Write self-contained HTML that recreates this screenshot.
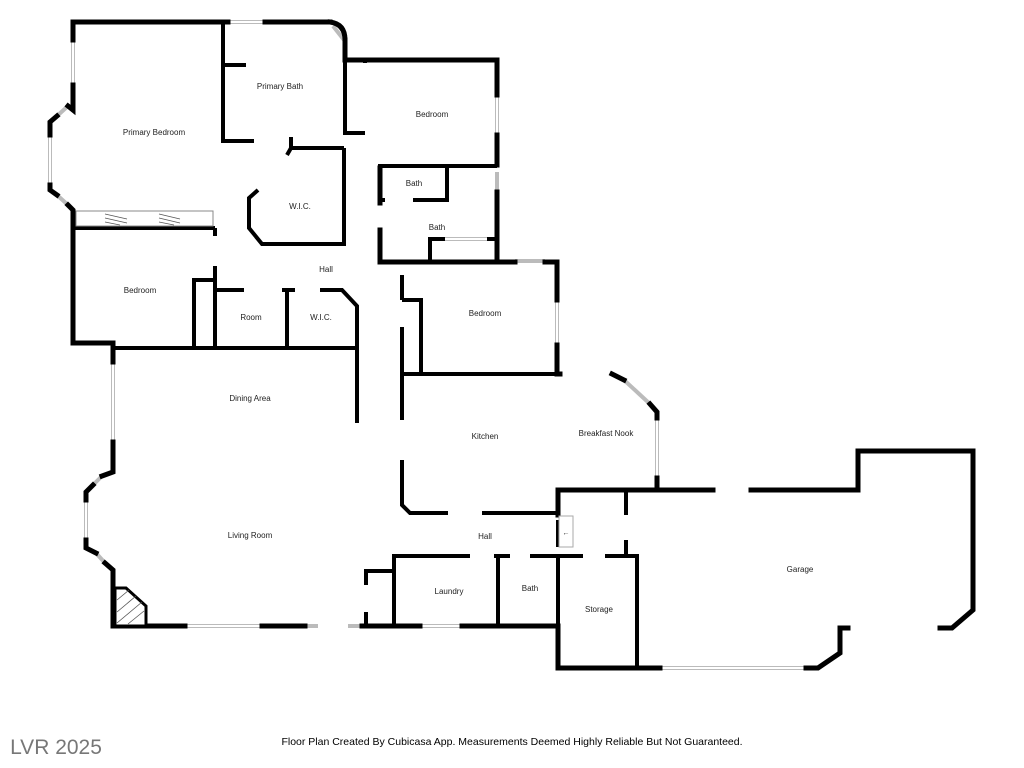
<!DOCTYPE html>
<html><head><meta charset="utf-8"><style>
html,body{margin:0;padding:0;background:#fff;width:1024px;height:768px;overflow:hidden}
svg{display:block}
text{font-family:"Liberation Sans",sans-serif;font-size:8px;fill:#222;text-anchor:middle}
.o{stroke:#000;stroke-width:5;fill:none;stroke-linejoin:miter;stroke-linecap:square}
.i{stroke:#000;stroke-width:4;fill:none;stroke-linecap:butt}
.w{stroke:#bbb;stroke-width:4;fill:none}
.wi{stroke:#fff;stroke-width:2;fill:none}
</style></head><body>
<svg width="1024" height="768" viewBox="0 0 1024 768">
<g class="w">
<line x1="228" y1="22" x2="265" y2="22"/><line x1="73" y1="40" x2="73" y2="85"/>
<line x1="57" y1="116" x2="68" y2="106"/><line x1="50" y1="135" x2="50" y2="185"/>
<line x1="57" y1="195" x2="68" y2="205"/><line x1="497" y1="95" x2="497" y2="135"/>
<line x1="497" y1="172" x2="497" y2="192"/><line x1="73" y1="276" x2="73" y2="316"/>
<line x1="113" y1="362" x2="113" y2="442"/><line x1="93" y1="485" x2="102" y2="476"/>
<line x1="86" y1="500" x2="86" y2="540"/><line x1="96" y1="553" x2="105" y2="563"/>
<line x1="185" y1="626" x2="262" y2="626"/><line x1="305" y1="626" x2="318" y2="626"/>
<line x1="348" y1="626" x2="362" y2="626"/><line x1="420" y1="626" x2="462" y2="626"/>
<line x1="515" y1="261" x2="545" y2="261"/><line x1="557" y1="300" x2="557" y2="345"/>
<line x1="624" y1="380" x2="650" y2="404"/><line x1="657" y1="418" x2="657" y2="478"/>
<line x1="660" y1="668" x2="806" y2="668"/><line x1="333" y1="26" x2="344" y2="40"/>
<line x1="445" y1="239" x2="487" y2="239"/>
</g>
<g class="wi">
<line x1="228" y1="22" x2="265" y2="22"/><line x1="73" y1="40" x2="73" y2="85"/>
<line x1="50" y1="135" x2="50" y2="185"/><line x1="497" y1="95" x2="497" y2="135"/>
<line x1="113" y1="362" x2="113" y2="442"/><line x1="86" y1="500" x2="86" y2="540"/>
<line x1="185" y1="626" x2="262" y2="626"/><line x1="420" y1="626" x2="462" y2="626"/>
<line x1="557" y1="300" x2="557" y2="345"/><line x1="657" y1="418" x2="657" y2="478"/>
<line x1="660" y1="668" x2="806" y2="668"/><line x1="445" y1="239" x2="487" y2="239"/>
</g>
<g class="o">
<polyline points="228,22 73,22 73,40"/>
<polyline points="265,22 330,22"/>
<path d="M330,22 Q345,24 345,40"/>
<polyline points="345,40 345,60 497,60 497,95"/>
<polyline points="497,135 497,165"/>
<polyline points="497,192 497,262 380,262 380,230"/>
<polyline points="380,203 380,168"/>
<polyline points="73,85 73,110 68,106"/>
<polyline points="57,116 50,122 50,135"/>
<polyline points="50,185 50,190 57,195"/>
<polyline points="68,205 73,210 73,343 113,343 113,362"/>
<polyline points="113,442 113,472 102,476"/>
<polyline points="93,485 86,492 86,500"/>
<polyline points="86,540 86,548 96,553"/>
<polyline points="105,563 113,570 113,626 185,626"/>
<polyline points="262,626 305,626"/>
<polyline points="362,626 420,626"/>
<polyline points="462,626 558,626 558,668 660,668"/>
<polyline points="806,668 818,668 840,653 840,628 848,628"/>
<polyline points="940,628 952,628 973,610 973,451 858,451 858,490 751,490"/>
<polyline points="713,490 558,490 558,515"/>
<polyline points="402,262 515,262"/>
<polyline points="545,262 557,262 557,300"/>
<polyline points="557,345 557,374 560,374"/>
<polyline points="612,374 624,380"/>
<polyline points="650,404 657,412 657,418"/>
<polyline points="657,478 657,490"/>
</g>
<g class="i">
<polyline points="223,22 223,141 254,141"/>
<line x1="223" y1="65" x2="246" y2="65"/>
<polyline points="291,137 291,148 344,148"/>
<polyline points="291,148 287,155"/>
<polyline points="258,190 249,198 249,228 262,244 344,244 344,148"/>
<polyline points="345,60 345,133 365,133"/>
<polyline points="345,60 365,60 365,63"/>
<polyline points="378,166 497,166"/>
<polyline points="413,200 447,200 447,166"/>
<line x1="380" y1="200" x2="385" y2="200"/>
<polyline points="430,262 430,239 445,239"/>
<polyline points="487,239 497,239"/>
<line x1="73" y1="228" x2="215" y2="228"/>
<line x1="215" y1="228" x2="215" y2="236"/>
<line x1="215" y1="266" x2="215" y2="348"/>
<polyline points="194,348 194,280 215,280"/>
<line x1="113" y1="348" x2="358" y2="348"/>
<polyline points="215,290 244,290"/>
<polyline points="282,290 295,290"/>
<line x1="287" y1="290" x2="287" y2="348"/>
<polyline points="320,290 342,290 357,306 357,423"/>
<line x1="402" y1="275" x2="402" y2="300"/>
<line x1="402" y1="327" x2="402" y2="374"/>
<polyline points="421,374 421,300 402,300"/>
<line x1="402" y1="374" x2="560" y2="374"/>
<line x1="402" y1="374" x2="402" y2="420"/>
<polyline points="402,460 402,505 410,513 448,513"/>
<polyline points="482,513 558,513"/>
<line x1="626" y1="490" x2="626" y2="515"/>
<line x1="626" y1="540" x2="626" y2="556"/>
<polyline points="583,556 558,556 558,626"/>
<polyline points="605,556 637,556 637,668"/>
<polyline points="558,556 530,556"/>
<polyline points="510,556 494,556"/>
<polyline points="470,556 394,556 394,626"/>
<polyline points="394,571 366,571 366,585"/>
<line x1="366" y1="612" x2="366" y2="626"/>
<line x1="498" y1="556" x2="498" y2="626"/>
<line x1="558" y1="520" x2="558" y2="547"/>
</g>
<rect x="76" y="211" width="137" height="15" fill="none" stroke="#888" stroke-width="1"/>
<g stroke="#555" stroke-width="0.8">
<line x1="105" y1="214" x2="127" y2="219"/><line x1="105" y1="218" x2="127" y2="223"/><line x1="105" y1="222" x2="120" y2="225"/>
<line x1="159" y1="214" x2="180" y2="219"/><line x1="159" y1="218" x2="180" y2="223"/><line x1="159" y1="222" x2="174" y2="225"/>
</g>
<polygon points="115,588 126,588 146,606 146,626 115,626" fill="#fff" stroke="#000" stroke-width="3"/>
<g stroke="#555" stroke-width="0.8">
<line x1="117" y1="600" x2="129" y2="590"/><line x1="117" y1="612" x2="136" y2="596"/><line x1="117" y1="623" x2="142" y2="602"/><line x1="128" y1="624" x2="144" y2="611"/>
</g>
<rect x="559" y="516" width="14" height="31" fill="#fff" stroke="#aaa" stroke-width="1"/>
<text x="566" y="535" style="font-size:7px">←</text>
<text x="154" y="135">Primary Bedroom</text>
<text x="280" y="89">Primary Bath</text>
<text x="432" y="117">Bedroom</text>
<text x="300" y="209">W.I.C.</text>
<text x="414" y="186">Bath</text>
<text x="437" y="230">Bath</text>
<text x="326" y="272">Hall</text>
<text x="140" y="293">Bedroom</text>
<text x="251" y="320">Room</text>
<text x="321" y="320">W.I.C.</text>
<text x="485" y="316">Bedroom</text>
<text x="250" y="401">Dining Area</text>
<text x="485" y="439">Kitchen</text>
<text x="606" y="436">Breakfast Nook</text>
<text x="250" y="538">Living Room</text>
<text x="485" y="539">Hall</text>
<text x="800" y="572">Garage</text>
<text x="449" y="594">Laundry</text>
<text x="530" y="591">Bath</text>
<text x="599" y="612">Storage</text>
<text x="512" y="745" style="font-size:10.5px;fill:#000">Floor Plan Created By Cubicasa App. Measurements Deemed Highly Reliable But Not Guaranteed.</text>
<text x="56" y="754" style="font-size:21px;fill:#777">LVR 2025</text>
</svg>
</body></html>
